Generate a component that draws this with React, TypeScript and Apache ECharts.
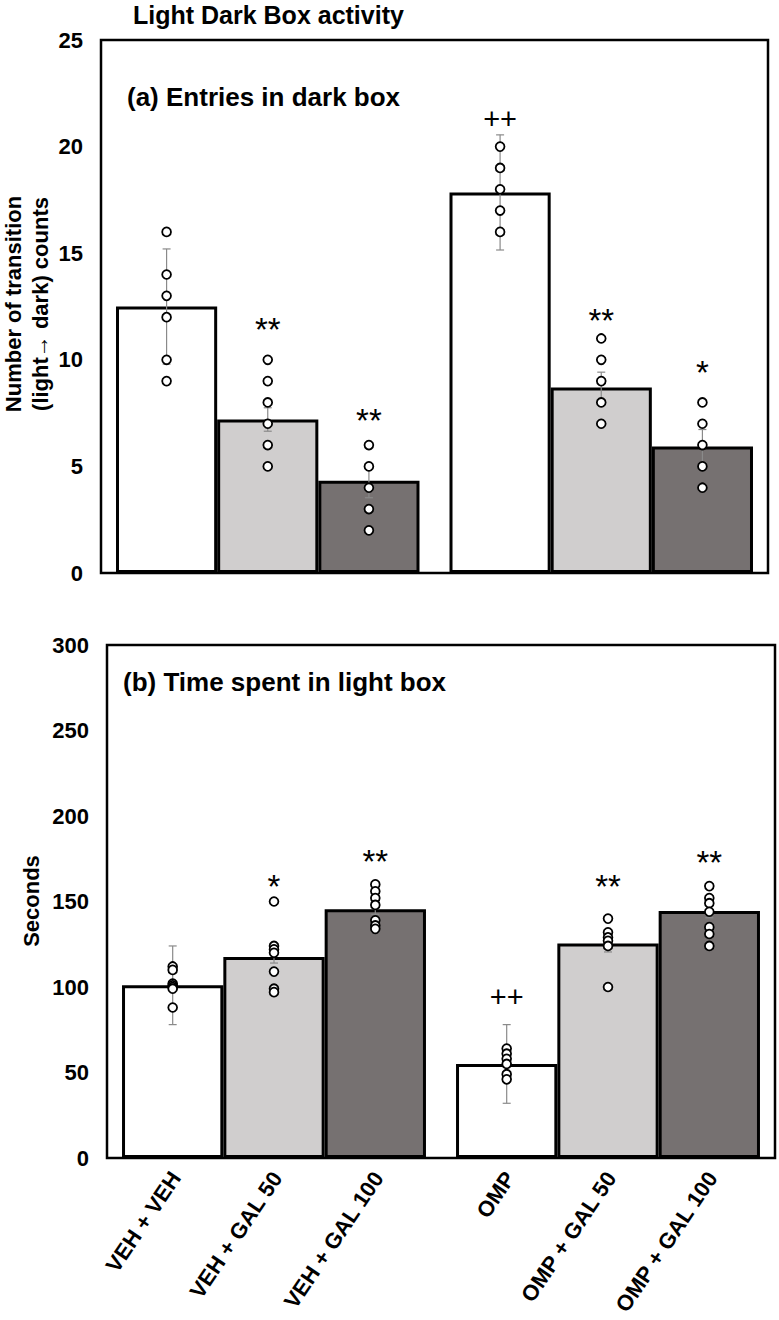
import React, { useEffect, useRef } from 'react';
import * as echarts from 'echarts';

// ---------- data ----------
const groups = ['VEH', 'OMP'];
const xLabels = ['VEH + VEH', 'VEH + GAL 50', 'VEH + GAL 100', 'OMP', 'OMP + GAL 50', 'OMP + GAL 100'];
const barColors = ['#FFFFFF', '#D0CECE', '#767171'];

// (a) entries in dark box — one value per bar, in xLabels order
const entriesMean = [12.5, 7.2, 4.33, 17.85, 8.7, 5.93];
const entriesSem = [2.7, 0.55, 0.8, 2.7, 0.72, 0.8];
const entriesPoints = [
  [16, 14, 13, 12, 10, 9],
  [10, 9, 8, 7, 6, 5],
  [6, 5, 4, 3, 2],
  [20, 19, 18, 17, 16],
  [11, 10, 9, 8, 7],
  [8, 7, 6, 5, 4],
];
const entriesMarks = ['', '**', '**', '++', '**', '*'];
const entriesMarkAt = [0, 11.8, 7.5, 21.3, 12.2, 9.75];

// (b) time spent in light box
const timeMean = [101, 117.5, 145.5, 55, 125.5, 144.5];
const timeSem = [23, 3.5, 3, 23, 5, 4];
const timePoints = [
  [112, 110, 102, 101, 100, 99, 88],
  [150, 124, 122, 120, 109, 99, 97],
  [160, 156, 152, 148, 139, 136, 134],
  [64, 61, 58, 55, 49, 46],
  [140, 132, 129, 127, 124, 100],
  [159, 152, 149, 144, 135, 131, 124],
];
const timeMarks = ['', '*', '**', '++', '**', '**'];
const timeMarkAt = [0, 163, 178, 94, 163, 177];

const FONT = "'Liberation Sans', Arial, Helvetica, sans-serif";
const CAT_GAP = 0.09;

function barCenterX(api: any, cat: number, sub: number) {
  const c = api.coord([cat, 0]);
  const bw = (api.size([1, 0])[0] * (1 - CAT_GAP)) / 3;
  return c[0] + (sub - 1) * bw;
}

function panelSeries(p: number, mean: number[], sem: number[], pts: number[][], marks: string[], markAt: number[]) {
  const series: any[] = [];
  for (let s = 0; s < 3; s++) {
    series.push({
      type: 'bar',
      xAxisIndex: p,
      yAxisIndex: p,
      data: [mean[s], mean[s + 3]],
      barGap: '0%',
      barCategoryGap: '9%',
      itemStyle: { color: barColors[s], borderColor: '#000', borderWidth: 3 },
      z: 2,
    });
  }
  const errData = mean.map((m, i) => [Math.floor(i / 3), i % 3, m, sem[i]]);
  series.push({
    type: 'custom',
    xAxisIndex: p,
    yAxisIndex: p,
    data: errData,
    encode: { x: 0, y: 2 },
    z: 3,
    renderItem: (params: any, api: any) => {
      const cat = api.value(0);
      const sub = api.value(1);
      const m = api.value(2);
      const e = api.value(3);
      const x = barCenterX(api, cat, sub);
      const yT = api.coord([cat, m + e])[1];
      const yB = api.coord([cat, m - e])[1];
      const st = { stroke: '#8a8a8a', lineWidth: 1.2 };
      return {
        type: 'group',
        children: [
          { type: 'line', shape: { x1: x, y1: yT, x2: x, y2: yB }, style: st },
          { type: 'line', shape: { x1: x - 4, y1: yT, x2: x + 4, y2: yT }, style: st },
          { type: 'line', shape: { x1: x - 4, y1: yB, x2: x + 4, y2: yB }, style: st },
        ],
      };
    },
  });
  const ptData: number[][] = [];
  pts.forEach((arr, i) => arr.forEach((v) => ptData.push([Math.floor(i / 3), i % 3, v])));
  series.push({
    type: 'custom',
    xAxisIndex: p,
    yAxisIndex: p,
    data: ptData,
    encode: { x: 0, y: 2 },
    z: 4,
    renderItem: (params: any, api: any) => {
      const cat = api.value(0);
      const sub = api.value(1);
      const x = barCenterX(api, cat, sub);
      const y = api.coord([cat, api.value(2)])[1];
      return {
        type: 'circle',
        shape: { cx: x, cy: y, r: 4.4 },
        style: { fill: '#fff', stroke: '#000', lineWidth: 1.8 },
      };
    },
  });
  const markIdx = marks.map((m, i) => i).filter((i) => marks[i] !== '');
  series.push({
    type: 'custom',
    xAxisIndex: p,
    yAxisIndex: p,
    data: markIdx.map((i) => [Math.floor(i / 3), i % 3, markAt[i]]),
    encode: { x: 0, y: 2 },
    z: 5,
    renderItem: (params: any, api: any) => {
      const i = markIdx[params.dataIndex];
      const txt = marks[i];
      const cat = api.value(0);
      const sub = api.value(1);
      const x = barCenterX(api, cat, sub);
      let y = api.coord([cat, api.value(2)])[1];
      const isStar = txt.indexOf('*') >= 0;
      const fs = isStar ? 33 : 29;
      if (isStar) y += 0.23 * fs;
      return {
        type: 'text',
        x,
        y,
        style: { text: txt, fontSize: fs, fontFamily: FONT, fill: '#000', align: 'center', verticalAlign: 'middle' },
      };
    },
  });
  return series;
}

export default function App() {
  const ref = useRef<HTMLDivElement>(null);
  useEffect(() => {
    const chart = echarts.init(ref.current!, null, { renderer: 'svg' });
    const axisLabel = { color: '#000', fontWeight: 'bold', fontSize: 22, fontFamily: FONT, margin: 18 };
    const labelSeries = {
      type: 'custom',
      xAxisIndex: 1,
      yAxisIndex: 1,
      data: xLabels.map((_, i) => [Math.floor(i / 3), i % 3, 0]),
      encode: { x: 0, y: 2 },
      z: 6,
      renderItem: (params: any, api: any) => {
        const cat = api.value(0);
        const sub = api.value(1);
        const x = barCenterX(api, cat, sub);
        const y = api.coord([cat, 0])[1];
        return {
          type: 'text',
          x: x + 3,
          y: y + 16,
          rotation: (56 * Math.PI) / 180,
          style: {
            text: xLabels[params.dataIndex],
            fontSize: 22,
            fontWeight: 'bold',
            fontFamily: FONT,
            fill: '#000',
            align: 'right',
            verticalAlign: 'middle',
          },
        };
      },
    };
    const option: any = {
      animation: false,
      backgroundColor: '#fff',
      grid: [
        { left: 101, top: 40, width: 667, height: 533, show: true, borderColor: '#000', borderWidth: 2.5, backgroundColor: 'transparent' },
        { left: 107, top: 645, width: 668, height: 513, show: true, borderColor: '#000', borderWidth: 2.5, backgroundColor: 'transparent' },
      ],
      xAxis: [0, 1].map((g) => ({
        type: 'category',
        gridIndex: g,
        data: groups,
        axisLine: { show: false },
        axisTick: { show: false },
        axisLabel: { show: false },
        splitLine: { show: false },
      })),
      yAxis: [
        { type: 'value', gridIndex: 0, min: 0, max: 25, interval: 5, axisLine: { show: false }, axisTick: { show: false }, splitLine: { show: false }, axisLabel },
        { type: 'value', gridIndex: 1, min: 0, max: 300, interval: 50, axisLine: { show: false }, axisTick: { show: false }, splitLine: { show: false }, axisLabel },
      ],
      series: [
        ...panelSeries(0, entriesMean, entriesSem, entriesPoints, entriesMarks, entriesMarkAt),
        ...panelSeries(1, timeMean, timeSem, timePoints, timeMarks, timeMarkAt),
        labelSeries,
      ],
      graphic: [
        { type: 'text', x: 133, y: 15, style: { text: 'Light Dark Box activity', fontSize: 25, fontWeight: 'bold', fontFamily: FONT, fill: '#000', verticalAlign: 'middle' } },
        { type: 'text', x: 127, y: 97, style: { text: '(a) Entries in dark box', fontSize: 26, fontWeight: 'bold', fontFamily: FONT, fill: '#000', verticalAlign: 'middle' } },
        { type: 'text', x: 123, y: 682, style: { text: '(b) Time spent in light box', fontSize: 26, fontWeight: 'bold', fontFamily: FONT, fill: '#000', verticalAlign: 'middle' } },
        {
          type: 'text', x: 27, y: 304, rotation: Math.PI / 2,
          style: { text: 'Number of transition\n(light\u2192 dark) counts', fontSize: 22, lineHeight: 27, fontWeight: 'bold', fontFamily: FONT, fill: '#000', align: 'center', verticalAlign: 'middle' },
        },
        {
          type: 'text', x: 31, y: 901, rotation: Math.PI / 2,
          style: { text: 'Seconds', fontSize: 22, fontWeight: 'bold', fontFamily: FONT, fill: '#000', align: 'center', verticalAlign: 'middle' },
        },
      ],
    };
    chart.setOption(option);
    return () => chart.dispose();
  }, []);
  return <div ref={ref} style={{ position: 'absolute', left: 0, top: 0, width: 779, height: 1320 }} />;
}
